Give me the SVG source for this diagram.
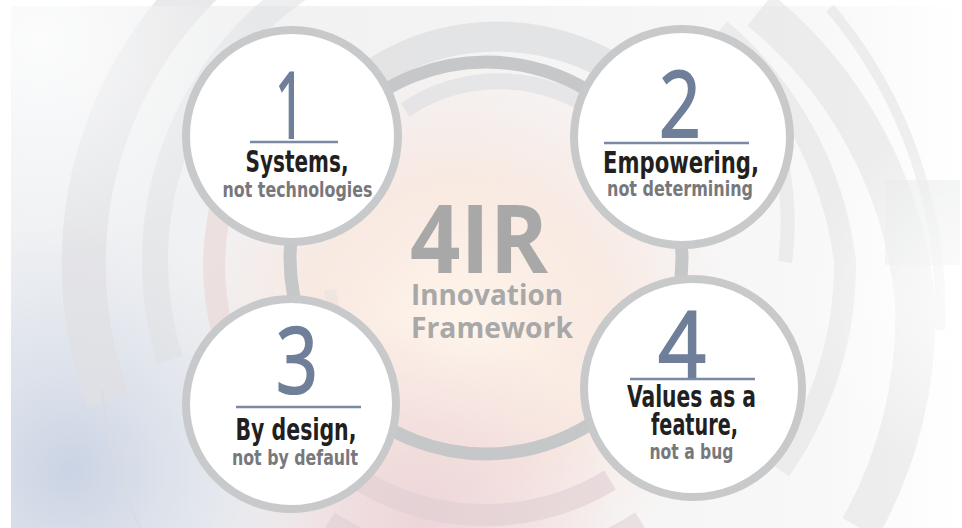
<svg xmlns="http://www.w3.org/2000/svg" width="962" height="528" viewBox="0 0 962 528">
<defs>
<linearGradient id="bgLin" x1="0" y1="0" x2="1" y2="0">
<stop offset="0" stop-color="#eef0f2"/>
<stop offset="0.45" stop-color="#f4f3f3"/>
<stop offset="0.85" stop-color="#f8f8f8"/>
<stop offset="1" stop-color="#ffffff"/>
</linearGradient>
<radialGradient id="warm" cx="460" cy="330" r="270" gradientUnits="userSpaceOnUse">
<stop offset="0" stop-color="#fff6ec" stop-opacity="1"/>
<stop offset="0.55" stop-color="#fae6dc" stop-opacity="0.75"/>
<stop offset="1" stop-color="#f6e4e0" stop-opacity="0"/>
</radialGradient>
<radialGradient id="pink" cx="420" cy="520" r="200" gradientUnits="userSpaceOnUse">
<stop offset="0" stop-color="#ecd3d8" stop-opacity="0.9"/>
<stop offset="1" stop-color="#ecd3d8" stop-opacity="0"/>
</radialGradient>
<radialGradient id="blue" cx="70" cy="470" r="250" gradientUnits="userSpaceOnUse">
<stop offset="0" stop-color="#c6d0e2" stop-opacity="0.9"/>
<stop offset="0.6" stop-color="#d6dce8" stop-opacity="0.45"/>
<stop offset="1" stop-color="#dfe3ec" stop-opacity="0"/>
</radialGradient>
<radialGradient id="fadeR" cx="980" cy="300" r="180" gradientUnits="userSpaceOnUse">
<stop offset="0" stop-color="#ffffff" stop-opacity="0.85"/>
<stop offset="1" stop-color="#ffffff" stop-opacity="0"/>
</radialGradient>
<radialGradient id="fadeTL" cx="40" cy="40" r="220" gradientUnits="userSpaceOnUse">
<stop offset="0" stop-color="#ffffff" stop-opacity="0.8"/>
<stop offset="1" stop-color="#ffffff" stop-opacity="0"/>
</radialGradient>
<style>
.bgarc{fill:none;stroke:#dfe0e2;}
.node circle{fill:#ffffff;stroke:#c8c9cb;stroke-width:8;}
.rule{stroke:#7a8aa5;stroke-width:2.5;}
.digit{font-family:"Open Sans","Noto Sans","Liberation Sans",sans-serif;font-weight:normal;font-size:92px;fill:#6f7f9a;stroke:#6f7f9a;stroke-width:2;text-anchor:middle;}
.main{font-family:"Liberation Sans Narrow","DejaVu Sans Condensed","Liberation Sans",sans-serif;font-stretch:condensed;font-weight:bold;font-size:30px;fill:#231f20;text-anchor:middle;}
.sub{font-family:"Liberation Sans Narrow","DejaVu Sans Condensed","Liberation Sans",sans-serif;font-stretch:condensed;font-weight:bold;font-size:22px;fill:#77787b;text-anchor:middle;}
.ctr{font-family:"Open Sans","Noto Sans","Liberation Sans",sans-serif;font-weight:bold;fill:#a8a8a9;}
</style>
</defs>

<g id="background">
<rect x="0" y="0" width="962" height="528" fill="#ffffff"/>
<rect x="11" y="6" width="951" height="522" fill="url(#bgLin)"/>
<rect x="11" y="6" width="951" height="522" fill="url(#warm)"/>
<rect x="11" y="6" width="951" height="522" fill="url(#pink)"/>
<rect x="11" y="6" width="951" height="522" fill="url(#blue)"/>
<path class="bgarc" d="M 108 400 A 392 392 0 0 1 330 -100" stroke-width="44" opacity="0.7"/>
<path d="M 140 528 A 420 420 0 0 1 102 390" fill="none" stroke="#d8dbe2" stroke-width="2"/>
<path class="bgarc" d="M 170 360 A 330 330 0 0 1 330 -30" stroke-width="26" opacity="0.55"/>
<path class="bgarc" d="M 830 8 A 470 470 0 0 1 940 330" stroke-width="10" opacity="0.5"/>
<path class="bgarc" d="M 760 10 A 430 430 0 0 1 915 300 A 430 430 0 0 1 860 528" stroke-width="40" opacity="0.5"/>
<path class="bgarc" d="M 720 30 A 360 360 0 0 1 845 262 A 360 360 0 0 1 780 470" stroke-width="22" opacity="0.5"/>
<rect x="885" y="180" width="75" height="85" fill="#e6e7e8" opacity="0.6"/>
<path class="bgarc" d="M 740 60 A 300 300 0 0 1 785 262" stroke-width="14" opacity="0.5"/>
<path class="bgarc" d="M 330 110 A 228 228 0 0 1 650 95" stroke-width="30" opacity="0.85"/>
<path class="bgarc" d="M 405 110 A 168 168 0 0 1 600 115" stroke-width="16" opacity="0.7"/>
<path d="M 222 330 A 272 272 0 0 1 225 190" fill="none" stroke="#e9d9d9" stroke-width="22" opacity="0.7"/>
<path d="M 360 480 A 240 240 0 0 0 610 480" fill="none" stroke="#e0cfd2" stroke-width="22" opacity="0.6"/>
<path d="M 330 520 A 285 285 0 0 0 640 520" fill="none" stroke="#dccbcf" stroke-width="18" opacity="0.5"/>
<path d="M 330 290 A 160 160 0 0 0 345 340" fill="none" stroke="#ebe3e0" stroke-width="12" opacity="0.7"/>
<rect x="11" y="6" width="951" height="522" fill="url(#fadeR)"/>
<rect x="11" y="6" width="951" height="522" fill="url(#fadeTL)"/>
</g>

<g id="connectors">
<circle cx="486" cy="258" r="196" fill="none" stroke="#c6c7c9" stroke-width="13"/>
</g>

<g id="center-title">
<text class="ctr" x="410" y="273" font-size="95" textLength="138" lengthAdjust="spacingAndGlyphs">4IR</text>
<text class="ctr" x="411" y="305" font-size="28" textLength="152" lengthAdjust="spacingAndGlyphs">Innovation</text>
<text class="ctr" x="411" y="338" font-size="28" textLength="162" lengthAdjust="spacingAndGlyphs">Framework</text>
</g>

<g id="node1" class="node">
<circle cx="292" cy="136" r="106"/>
<text class="digit" x="290" y="138" textLength="30" lengthAdjust="spacingAndGlyphs">1</text>
<line class="rule" x1="250" y1="142" x2="338" y2="142"/>
<text class="main" x="297" y="172" textLength="103" lengthAdjust="spacingAndGlyphs">Systems,</text>
<text class="sub" x="297.5" y="197" textLength="150" lengthAdjust="spacingAndGlyphs">not technologies</text>
</g>

<g id="node2" class="node">
<circle cx="682" cy="137" r="108"/>
<text class="digit" x="680" y="137" textLength="42" lengthAdjust="spacingAndGlyphs">2</text>
<line class="rule" x1="604" y1="143" x2="749" y2="143"/>
<text class="main" x="681" y="173" textLength="156" lengthAdjust="spacingAndGlyphs">Empowering,</text>
<text class="sub" x="680" y="196" textLength="146" lengthAdjust="spacingAndGlyphs">not determining</text>
</g>

<g id="node3" class="node">
<circle cx="291" cy="404" r="105"/>
<text class="digit" x="297" y="393" textLength="42" lengthAdjust="spacingAndGlyphs">3</text>
<line class="rule" x1="236" y1="407" x2="361" y2="407"/>
<text class="main" x="296" y="440" textLength="121" lengthAdjust="spacingAndGlyphs">By design,</text>
<text class="sub" x="295" y="465" textLength="126" lengthAdjust="spacingAndGlyphs">not by default</text>
</g>

<g id="node4" class="node">
<circle cx="693" cy="388" r="109"/>
<text class="digit" x="682" y="377" textLength="48" lengthAdjust="spacingAndGlyphs">4</text>
<line class="rule" x1="630" y1="379" x2="755" y2="379"/>
<text class="main" x="691.5" y="407" font-size="28" textLength="129" lengthAdjust="spacingAndGlyphs">Values as a</text>
<text class="main" x="694.5" y="435" font-size="28" textLength="87" lengthAdjust="spacingAndGlyphs">feature,</text>
<text class="sub" x="691.5" y="459" textLength="84" lengthAdjust="spacingAndGlyphs">not a bug</text>
</g>
</svg>
